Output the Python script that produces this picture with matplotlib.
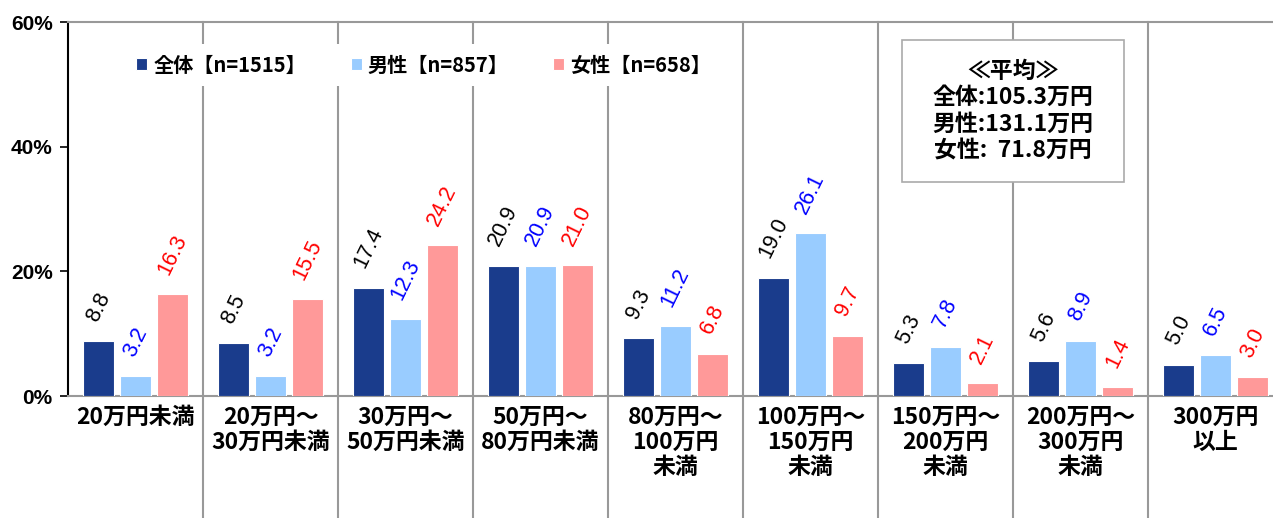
import numpy as np
import matplotlib.pyplot as plt
import matplotlib.transforms as mtransforms
from matplotlib.patches import Rectangle

plt.rcParams['font.family'] = ['Noto Sans CJK JP', 'DejaVu Sans']

# datos
categorias = ["20万円未満", "20万円～\n30万円未満", "30万円～\n50万円未満",
              "50万円～\n80万円未満", "80万円～\n100万円\n未満",
              "100万円～\n150万円\n未満", "150万円～\n200万円\n未満",
              "200万円～\n300万円\n未満", "300万円\n以上"]
zentai = [8.8, 8.5, 17.4, 20.9, 9.3, 19.0, 5.3, 5.6, 5.0]
dansei = [3.2, 3.2, 12.3, 20.9, 11.2, 26.1, 7.8, 8.9, 6.5]
josei = [16.3, 15.5, 24.2, 21.0, 6.8, 9.7, 2.1, 1.4, 3.0]
series_labels = ["全体【n=1515】", "男性【n=857】", "女性【n=658】"]
promedio = "≪平均≫\n全体:105.3万円\n男性:131.1万円\n女性:  71.8万円"

colores = ["#1a3c8c", "#99ccff", "#ff9999"]
colores_txt = ["black", "#0000ff", "#ff0000"]

W, H = 1273, 518
fig = plt.figure(figsize=(W / 100, H / 100), dpi=100)
ax = fig.add_axes([68 / W, (H - 396) / H, (W - 68) / W, 374 / H])

x = np.arange(len(categorias))
ancho = 0.23
paso = 0.274
for i, (vals, c, ct, lab) in enumerate(zip([zentai, dansei, josei], colores, colores_txt, series_labels)):
    pos = x + (i - 1) * paso
    ax.bar(pos, vals, width=ancho, color=c, edgecolor="white", linewidth=0.8, label=lab, zorder=3)
    for p, v in zip(pos, vals):
        ax.text(p, v + 2.6, f"{v:.1f}", rotation=64, ha="center", va="bottom",
                color=ct, fontsize=15.5, family=["Liberation Sans"], zorder=4)

ax.set_ylim(0, 60)
ax.set_yticks([0, 20, 40, 60])
ax.set_yticklabels(["0%", "20%", "40%", "60%"], fontsize=15, fontweight="bold",
                   family=["Liberation Sans"])
ax.set_xlim(-0.5, -0.5 + 1205 / 135)
ax.set_xticks(x)
ax.set_xticklabels(categorias, fontsize=16.5, fontweight="bold", linespacing=1.12)
ax.tick_params(axis="x", length=0, pad=7)
ax.tick_params(axis="y", length=6, width=1.2, pad=5)

ax.spines["right"].set_visible(False)
ax.spines["left"].set_color("black")
ax.spines["left"].set_linewidth(1.5)
ax.spines["top"].set_color("#999999")
ax.spines["top"].set_linewidth(1.5)
ax.spines["bottom"].set_color("#999999")
ax.spines["bottom"].set_linewidth(1.5)

# separadores
trans = mtransforms.blended_transform_factory(ax.transData, ax.transAxes)
for b in x + 0.5:
    ax.plot([b, b], [1, -0.33], transform=trans, color="#999999", lw=1.5,
            clip_on=False, zorder=1)

leg = ax.legend(loc="center left", bbox_to_anchor=(0.04, 0.885), ncol=3, frameon=True,
                fancybox=False, edgecolor="none", facecolor="white", framealpha=1,
                handlelength=0.55, handleheight=0.55, handletextpad=0.3, columnspacing=2.2,
                borderpad=0.5, prop={"size": 14.5, "weight": "bold"})
leg.set_zorder(5)

# cuadro del promedio
fig.patches.append(Rectangle((902 / W, (H - 182) / H), 222 / W, 142 / H,
                             transform=fig.transFigure, facecolor="white",
                             edgecolor="#aaaaaa", lw=1.2, zorder=5))
fig.text(1013 / W, (H - 111) / H, promedio, ha="center", va="center",
         multialignment="center", fontsize=16.5, fontweight="bold", linespacing=1.2, zorder=6)

fig.savefig("out.png", dpi=100)
